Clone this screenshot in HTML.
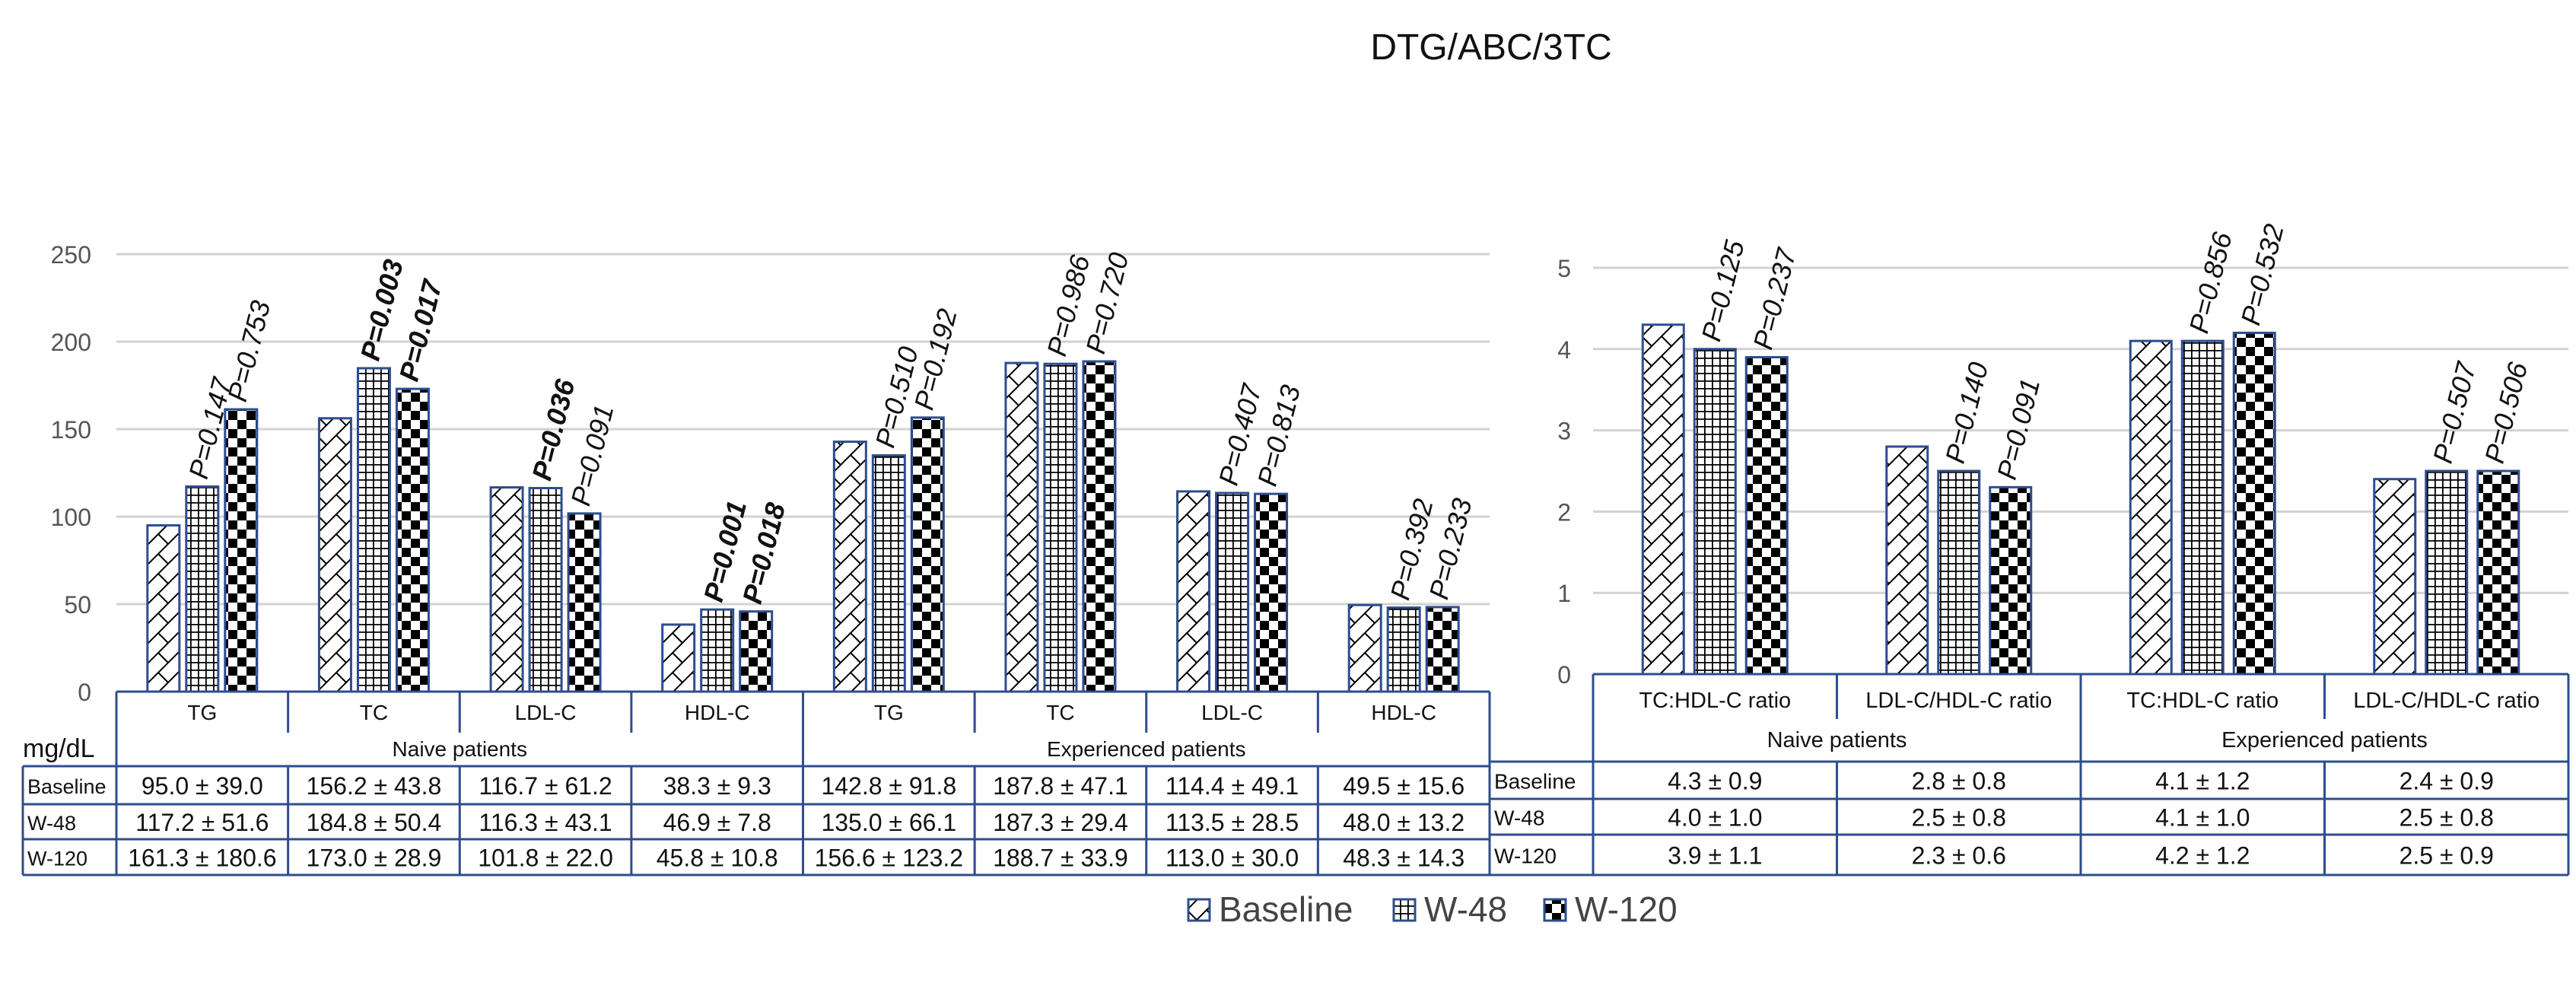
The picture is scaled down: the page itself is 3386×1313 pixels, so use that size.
<!DOCTYPE html>
<html><head><meta charset="utf-8"><title>DTG/ABC/3TC lipids</title>
<style>
html,body{margin:0;padding:0;background:#fff;}
svg{display:block;font-family:"Liberation Sans",sans-serif;}
</style></head>
<body>
<svg id="chart" width="3386" height="1313" viewBox="0 0 3386 1313" xmlns="http://www.w3.org/2000/svg">
<defs>
<pattern id="pBase" width="26" height="26" patternUnits="userSpaceOnUse">
<rect width="26" height="26" fill="#fff"/>
<path d="M0 26 L26 0 M-6 6 L6 -6 M20 32 L32 20" stroke="#000" stroke-width="2"/>
<path d="M0 0 L13 13" stroke="#000" stroke-width="2"/>
</pattern>
<pattern id="pW48" width="10" height="10" patternUnits="userSpaceOnUse">
<rect width="10" height="10" fill="#fff"/>
<path d="M0 0.5 H10 M0.5 0 V10" stroke="#000" stroke-width="2.6"/>
</pattern>
<pattern id="pW120" width="24" height="24" patternUnits="userSpaceOnUse">
<rect width="24" height="24" fill="#fff"/>
<rect width="12" height="12" fill="#000"/>
<rect x="12" y="12" width="12" height="12" fill="#000"/>
</pattern>
</defs>
<text x="1960" y="78" font-size="48" text-anchor="middle" fill="#111">DTG/ABC/3TC</text>
<g id="g"></g>
</svg>
<script>
// Left chart data (mg/dL)
const leftCategories = ["TG","TC","LDL-C","HDL-C","TG","TC","LDL-C","HDL-C"];
const leftBaseline = [95.0,156.2,116.7,38.3,142.8,187.8,114.4,49.5];
const leftW48 = [117.2,184.8,116.3,46.9,135.0,187.3,113.5,48.0];
const leftW120 = [161.3,173.0,101.8,45.8,156.6,188.7,113.0,48.3];
const leftPW48 = ["0.147","0.003","0.036","0.001","0.510","0.986","0.407","0.392"];
const leftPW120 = ["0.753","0.017","0.091","0.018","0.192","0.720","0.813","0.233"];
const leftBoldW48 = [false,true,true,true,false,false,false,false];
const leftBoldW120 = [false,true,false,true,false,false,false,false];
const leftTicks = [0,50,100,150,200,250];
const leftTblBase = ["95.0 ± 39.0","156.2 ± 43.8","116.7 ± 61.2","38.3 ± 9.3","142.8 ± 91.8","187.8 ± 47.1","114.4 ± 49.1","49.5 ± 15.6"];
const leftTblW48 = ["117.2 ± 51.6","184.8 ± 50.4","116.3 ± 43.1","46.9 ± 7.8","135.0 ± 66.1","187.3 ± 29.4","113.5 ± 28.5","48.0 ± 13.2"];
const leftTblW120 = ["161.3 ± 180.6","173.0 ± 28.9","101.8 ± 22.0","45.8 ± 10.8","156.6 ± 123.2","188.7 ± 33.9","113.0 ± 30.0","48.3 ± 14.3"];
// Right chart data (ratios)
const rightCategories = ["TC:HDL-C ratio","LDL-C/HDL-C ratio","TC:HDL-C ratio","LDL-C/HDL-C ratio"];
const rightBaseline = [4.3,2.8,4.1,2.4];
const rightW48 = [4.0,2.5,4.1,2.5];
const rightW120 = [3.9,2.3,4.2,2.5];
const rightPW48 = ["0.125","0.140","0.856","0.507"];
const rightPW120 = ["0.237","0.091","0.532","0.506"];
const rightTicks = [0,1,2,3,4,5];
const rightTblBase = ["4.3 ± 0.9","2.8 ± 0.8","4.1 ± 1.2","2.4 ± 0.9"];
const rightTblW48 = ["4.0 ± 1.0","2.5 ± 0.8","4.1 ± 1.0","2.5 ± 0.8"];
const rightTblW120 = ["3.9 ± 1.1","2.3 ± 0.6","4.2 ± 1.2","2.5 ± 0.9"];
const groups = ["Naive patients","Experienced patients"];
const rowLabels = ["Baseline","W-48","W-120"];

const NS="http://www.w3.org/2000/svg";
const G=document.getElementById('g');
function el(tag,attrs,txt){const e=document.createElementNS(NS,tag);for(const k in attrs)e.setAttribute(k,attrs[k]);if(txt!==undefined)e.textContent=txt;G.appendChild(e);return e;}
const BLUE="#2e4d8f", TXT="#111";

function drawPanel(o){
  const yScale=v=>o.y0-(v/o.max)*(o.y0-o.yTop);
  const colW=(o.x1-o.x0)/o.cats.length;
  o.ticks.forEach(t=>{
    const y=yScale(t);
    if(t>0){const l=el('line',{x1:o.x0,x2:o.x1,y1:y,y2:y,stroke:'#d2d2d2','stroke-width':3});
      }
    const tx=el('text',{x:o.tickX,y:y+12,'font-size':32,'text-anchor':'end',fill:'#555'},String(t));
    
  });
  const series=[[o.base,'url(#pBase)'],[o.w48,'url(#pW48)'],[o.w120,'url(#pW120)']];
  o.cats.forEach((c,i)=>{
    const cx=o.x0+colW*(i+0.5);
    series.forEach((s,j)=>{
      const x=cx+(j-1)*o.step-o.bw/2, y=yScale(s[0][i]);
      const r=el('rect',{x:x,y:y,width:o.bw,height:o.y0-y,fill:s[1],stroke:BLUE,'stroke-width':3});
      
      
      if(j>0){
        const p=j===1?o.p48[i]:o.p120[i];
        const bold=j===1?(o.b48&&o.b48[i]):(o.b120&&o.b120[i]);
        const lx=x+o.bw/2+6, ly=y-8;
        const t=el('text',{x:0,y:0,'font-size':o.pfs,'font-style':'italic','font-weight':bold?'bold':'normal',fill:TXT,transform:`translate(${lx},${ly}) rotate(-76)`},'P='+p);
        
      }
    });
  });
  const T=o.tbl;
  const ln=(x1,y1,x2,y2)=>{const l=el('line',{x1,y1,x2,y2,stroke:BLUE,'stroke-width':3});};
  ln(o.x0,o.y0,o.x1,o.y0);
  ln(o.x0,o.y0,o.x0,T.bottom); ln(o.x1,o.y0,o.x1,T.bottom);
  ln(T.lx,T.r1,o.x1,T.r1); ln(T.lx,T.r2,o.x1,T.r2); ln(T.lx,T.r3,o.x1,T.r3); ln(T.lx,T.bottom,o.x1,T.bottom);
  ln(T.lx,T.r1,T.lx,T.bottom);
  for(let i=1;i<o.cats.length;i++){
    const x=o.x0+colW*i;
    if(i===o.cats.length/2) ln(x,o.y0,x,T.bottom);
    else {ln(x,o.y0,x,T.catBot);ln(x,T.r1,x,T.bottom);}
  }
  o.cats.forEach((c,i)=>{
    const t=el('text',{x:o.x0+colW*(i+0.5),y:T.catY,'font-size':T.fs,'text-anchor':'middle',fill:TXT},c);
    
  });
  groups.forEach((g,k)=>{
    const w=(o.x1-o.x0)/2;
    const t=el('text',{x:o.x0+w*(k+0.5),y:T.grpY,'font-size':T.fs,'text-anchor':'middle',fill:TXT},g);
    
  });
  const rows=[o.tb,o.t48,o.t120], rt=[T.r1,T.r2,T.r3,T.bottom];
  rows.forEach((row,r)=>{
    const lab=el('text',{x:T.lx+6,y:(rt[r]+rt[r+1])/2+11,'font-size':T.lfs,fill:TXT},rowLabels[r]);
    
    row.forEach((v,i)=>{
      const t=el('text',{x:o.x0+colW*(i+0.5),y:(rt[r]+rt[r+1])/2+12,'font-size':T.vfs,'text-anchor':'middle',fill:TXT},v);
      
    });
  });
}

drawPanel({x0:153,x1:1958,y0:909,yTop:334,max:250,ticks:leftTicks,tickX:120,bw:42,step:51,pfs:36,
  cats:leftCategories,base:leftBaseline,w48:leftW48,w120:leftW120,p48:leftPW48,p120:leftPW120,b48:leftBoldW48,b120:leftBoldW120,
  tb:leftTblBase,t48:leftTblW48,t120:leftTblW120,
  tbl:{lx:30,catBot:963,r1:1007,r2:1057,r3:1103,bottom:1150,catY:946,grpY:994,fs:28,lfs:27,vfs:32}});
drawPanel({x0:2094,x1:3376,y0:886,yTop:352,max:5,ticks:rightTicks,tickX:2065,bw:54,step:68,pfs:36,
  cats:rightCategories,base:rightBaseline,w48:rightW48,w120:rightW120,p48:rightPW48,p120:rightPW120,
  tb:rightTblBase,t48:rightTblW48,t120:rightTblW120,
  tbl:{lx:1958,catBot:945,r1:1001,r2:1050,r3:1097,bottom:1150,catY:930,grpY:982,fs:29,lfs:28,vfs:32}});

const u=el('text',{x:30,y:995,'font-size':34,fill:TXT},'mg/dL');


const legendNames=["Baseline","W-48","W-120"];
const legFills=['url(#pBase)','url(#pW48)','url(#pW120)'];
const legX=[1562,1832,2030];
legendNames.forEach((n,i)=>{
  const r=el('rect',{x:legX[i],y:1182,width:28,height:28,fill:legFills[i],stroke:BLUE,'stroke-width':3});
  
  const t=el('text',{x:legX[i]+40,y:1211,'font-size':46,fill:'#444'},n);
  
});
</script>
</body></html>
